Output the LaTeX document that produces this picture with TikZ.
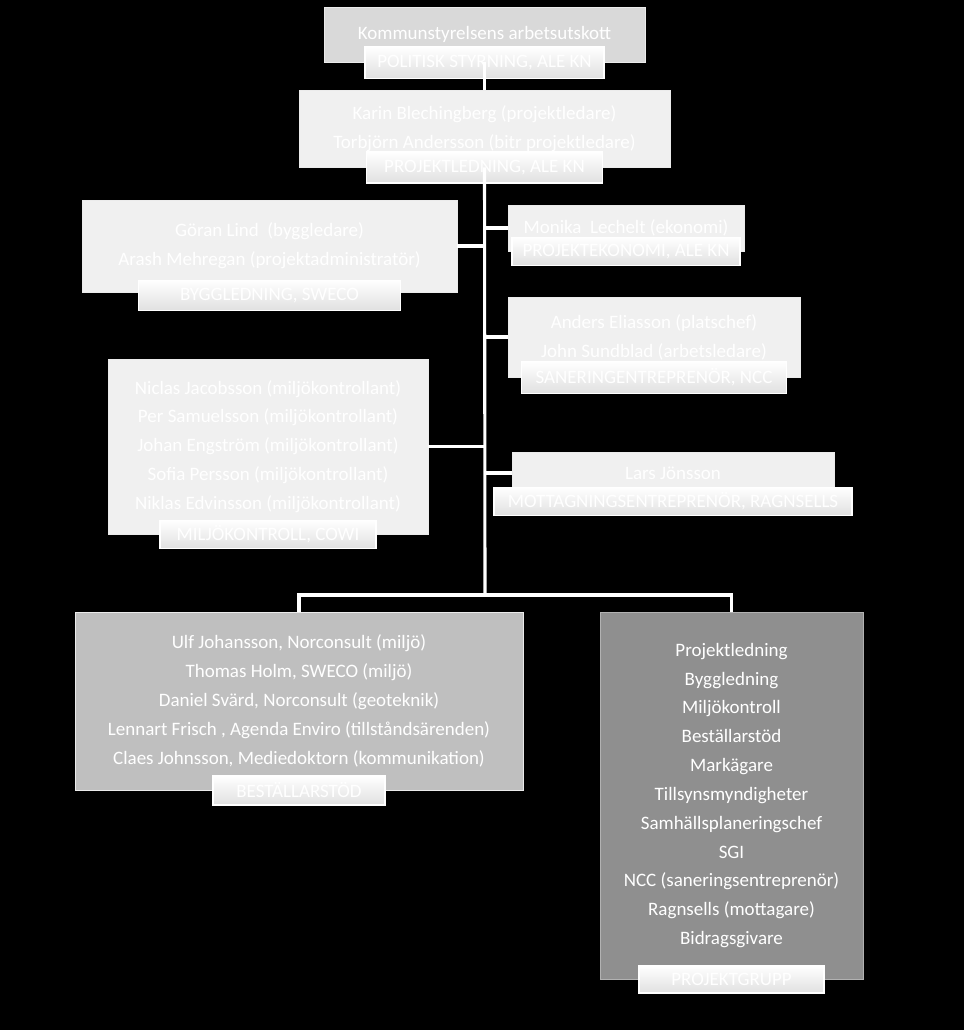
\documentclass[tikz,border=0pt]{standalone}
\usepackage{fontspec}
\setmainfont{Carlito}
\usepackage{tikz}
\usetikzlibrary{positioning}

\begin{document}
\begin{tikzpicture}[x=0.025cm, y=-0.025cm,
  orgbox/.style={rectangle, draw=black!8, line width=0.5pt, text=white, align=center,
    inner sep=0pt, font=\fontsize{13.5}{20.5}\selectfont},
  lightbox/.style={orgbox, fill=black!6},
  tagbox/.style={rectangle, draw=white, line width=1.2pt, top color=white, bottom color=black!12,
    text=white, inner sep=0pt, font=\fontsize{13.5}{14}\selectfont},
  conn/.style={draw=white, line width=2.2pt}
]
  \fill[black] (0,0) rectangle (964,1030);

  % main boxes
  \node[orgbox, fill=black!15, minimum width=8.025cm, minimum height=1.375cm] (ks) at (484.5,34.5)
    {Kommunstyrelsens arbetsutskott};
  \node[lightbox, minimum width=9.275cm, minimum height=1.925cm] (pl) at (484.5,128.5)
    {Karin Blechingberg (projektledare)\\Torbjörn Andersson (bitr projektledare)};
  \node[lightbox, minimum width=9.375cm, minimum height=2.3cm] (bygg) at (269.5,246)
    {Göran Lind\ \ (byggledare)\\Arash Mehregan (projektadministratör)};
  \node[lightbox, minimum width=5.9cm, minimum height=1.15cm] (eko) at (626,228)
    {Monika\ \ Lechelt (ekonomi)};
  \node[lightbox, minimum width=7.3cm, minimum height=2.0cm] (san) at (654,337)
    {Anders Eliasson (platschef)\\John Sundblad (arbetsledare)};
  \node[lightbox, minimum width=8.0cm, minimum height=4.375cm] (milj) at (268,446.5)
    {Niclas Jacobsson (miljökontrollant)\\Per Samuelsson (miljökontrollant)\\
     Johan Engström (miljökontrollant)\\Sofia Persson (miljökontrollant)\\
     Niklas Edvinsson (miljökontrollant)};
  \node[lightbox, minimum width=8.05cm, minimum height=1.05cm] (mott) at (673,473)
    {Lars Jönsson};
  \node[orgbox, fill=black!25, minimum width=11.2cm, minimum height=4.45cm] (best) at (299,701)
    {Ulf Johansson, Norconsult (miljö)\\Thomas Holm, SWECO (miljö)\\
     Daniel Svärd, Norconsult (geoteknik)\\Lennart Frisch , Agenda Enviro (tillståndsärenden)\\
     Claes Johnsson, Mediedoktorn (kommunikation)};
  \node[orgbox, fill=black!44, draw=black!30, minimum width=6.575cm, minimum height=9.175cm] (grupp) at (731.5,795.5)
    {Projektledning\\Byggledning\\Miljökontroll\\Beställarstöd\\Markägare\\Tillsynsmyndigheter\\
     Samhällsplaneringschef\\SGI\\NCC (saneringsentreprenör)\\Ragnsells (mottagare)\\Bidragsgivare};

  % tags
  \node[tagbox, minimum width=5.975cm, minimum height=0.8cm]   (ks-tag)    at (ks.south)    {POLITISK STYRNING, ALE KN};
  \node[tagbox, minimum width=5.9cm, minimum height=0.775cm]   (pl-tag)    at (pl.south)    {PROJEKTLEDNING, ALE KN};
  \node[tagbox, minimum width=6.55cm, minimum height=0.75cm, yshift=-0.075cm] (bygg-tag) at (bygg.south) {BYGGLEDNING, SWECO};
  \node[tagbox, minimum width=5.7cm, minimum height=0.7cm]     (eko-tag)   at (eko.south)   {PROJEKTEKONOMI, ALE KN};
  \node[tagbox, minimum width=6.625cm, minimum height=0.8cm]   (san-tag)   at (san.south)   {SANERINGENTREPRENÖR, NCC};
  \node[tagbox, minimum width=5.4cm, minimum height=0.7cm]     (milj-tag)  at (milj.south)  {MILJÖKONTROLL, COWI};
  \node[tagbox, minimum width=8.95cm, minimum height=0.7cm, yshift=-0.175cm] (mott-tag) at (mott.south) {MOTTAGNINGSENTREPRENÖR, RAGNSELLS};
  \node[tagbox, minimum width=4.3cm, minimum height=0.725cm]   (best-tag)  at (best.south)  {BESTÄLLARSTÖD};
  \node[tagbox, minimum width=4.625cm, minimum height=0.675cm] (grupp-tag) at (grupp.south) {PROJEKTGRUPP};

  % connectors
  \coordinate (trunk) at (485,595);
  \draw[conn] (ks.south) -- (pl.north);
  \draw[conn] (pl.south) -- (trunk);
  \draw[conn] (bygg.east) -- (bygg.east -| trunk);
  \draw[conn] (eko.west)  -- (eko.west -| trunk);
  \draw[conn] (san.west)  -- (san.west -| trunk);
  \draw[conn] (milj.east) -- (milj.east -| trunk);
  \draw[conn] (mott.west) -- (mott.west -| trunk);
  \draw[conn] (best.north) |- (trunk) -| (grupp.north);
\end{tikzpicture}
\end{document}
